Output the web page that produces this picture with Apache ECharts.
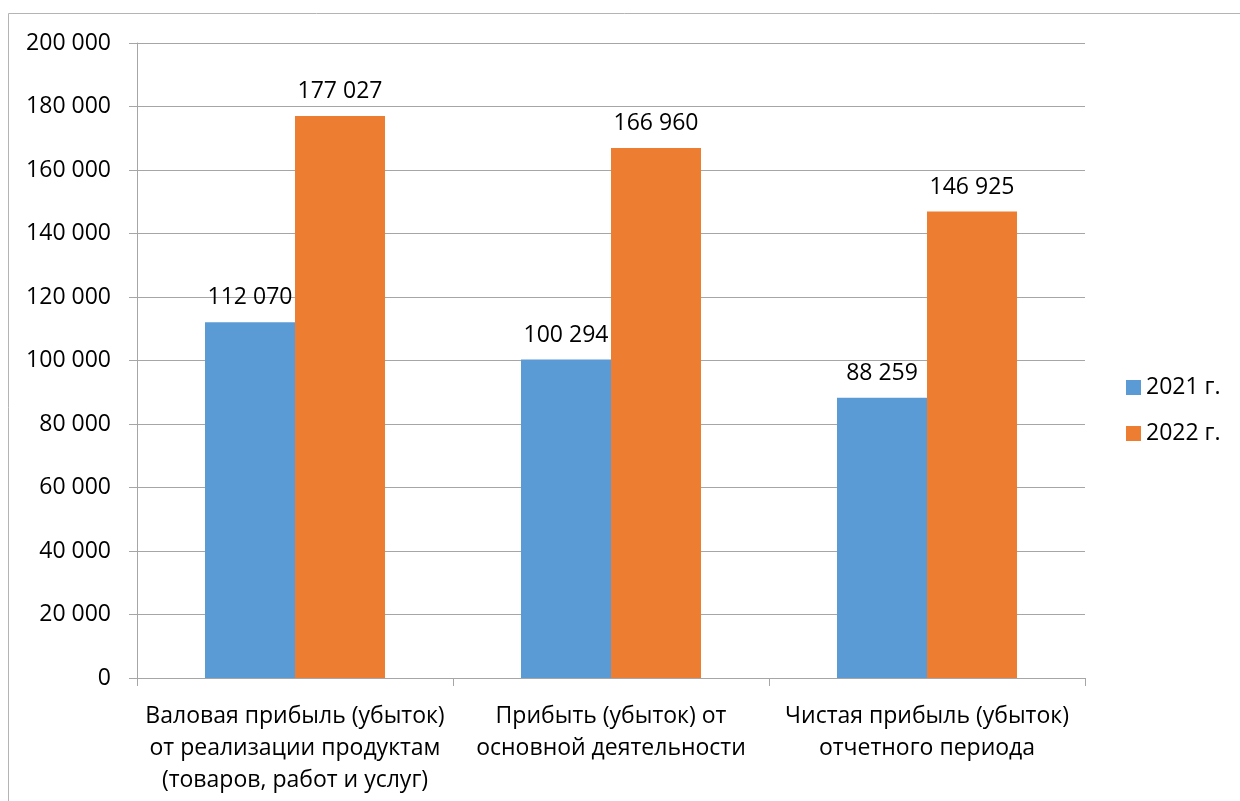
<!DOCTYPE html>
<html>
<head>
<meta charset="utf-8">
<script src="https://cdn.jsdelivr.net/npm/echarts@6/dist/echarts.min.js"></script>
<style>
  html, body { margin: 0; padding: 0; background: #fff; }
  #chart { width: 1240px; height: 801px; }
</style>
</head>
<body>
<div id="chart"></div>
<script>
// Profit indicators, 2021 vs 2022
var categories = [
  'Валовая прибыль (убыток)\nот реализации продуктам\n(товаров, работ и услуг)',
  'Прибыть (убыток) от\nосновной деятельности',
  'Чистая прибыль (убыток)\nотчетного периода'
];
var seriesNames = ['2021 г.', '2022 г.'];
var values2021 = [112070, 100294, 88259];
var values2022 = [177027, 166960, 146925];

var FONT = '"Open Sans", sans-serif';
var TEXT = '#000';
var LINE = '#a6a6a6';
var FS = 23;

function fmt(v) {
  return String(v).replace(/\B(?=(\d{3})+(?!\d))/g, ' ');
}

var chart = echarts.init(document.getElementById('chart'), null, { renderer: 'canvas' });

var labelStyle = {
  show: true,
  position: 'top',
  distance: 13,
  color: TEXT,
  fontFamily: FONT,
  fontSize: FS,
  formatter: function (p) { return fmt(p.value); }
};

chart.setOption({
  animation: false,
  backgroundColor: '#fff',
  graphic: [{
    type: 'rect',
    shape: { x: 8.5, y: 13.5, width: 1300, height: 900 },
    style: { fill: 'none', stroke: '#b4b4b4', lineWidth: 1 },
    silent: true,
    z: -1
  }],
  grid: { left: 137, right: 155, top: 43, bottom: 123, containLabel: false },
  legend: {
    orient: 'vertical',
    left: 1121,
    top: 371,
    itemWidth: 15,
    itemHeight: 15,
    itemGap: 23,
    icon: 'rect',
    textStyle: { color: TEXT, fontFamily: FONT, fontSize: FS },
    data: seriesNames
  },
  xAxis: {
    type: 'category',
    data: categories,
    axisLine: { show: true, lineStyle: { color: LINE, width: 1 } },
    axisTick: { show: true, length: 8, lineStyle: { color: LINE } },
    axisLabel: {
      color: TEXT, fontFamily: FONT, fontSize: FS, lineHeight: 32,
      margin: 22, interval: 0, align: 'center'
    }
  },
  yAxis: {
    type: 'value',
    min: 0,
    max: 200000,
    interval: 20000,
    axisLine: { show: true, lineStyle: { color: LINE, width: 1 } },
    axisTick: { show: true, length: 8, lineStyle: { color: LINE } },
    splitLine: { show: true, lineStyle: { color: LINE, width: 1 } },
    axisLabel: {
      color: TEXT, fontFamily: FONT, fontSize: FS, margin: 26,
      formatter: function (v) { return fmt(v); }
    }
  },
  series: [
    {
      name: seriesNames[0],
      type: 'bar',
      data: values2021,
      barWidth: 90,
      barGap: '0%',
      itemStyle: { color: '#5b9bd5' },
      label: labelStyle
    },
    {
      name: seriesNames[1],
      type: 'bar',
      data: values2022,
      barWidth: 90,
      barGap: '0%',
      itemStyle: { color: '#ed7d31' },
      label: labelStyle
    }
  ]
});
</script>
</body>
</html>
